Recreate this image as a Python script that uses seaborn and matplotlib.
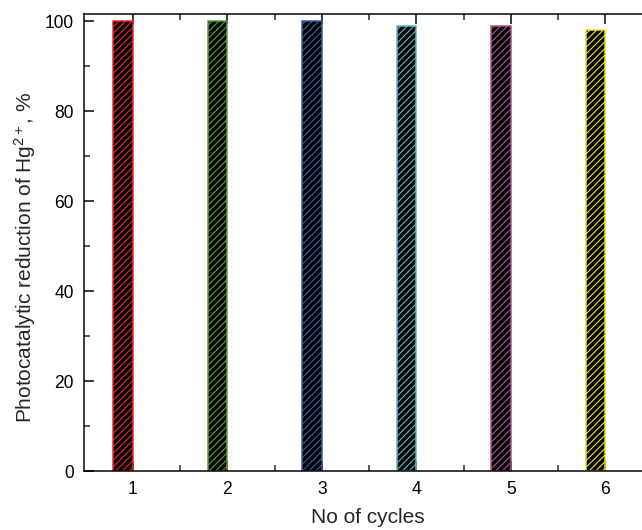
import matplotlib
matplotlib.use("Agg")
import matplotlib.pyplot as plt
import seaborn as sns
import numpy as np
import pandas as pd
from matplotlib.ticker import MultipleLocator, FixedLocator

cycles = ["1", "2", "3", "4", "5", "6"]
reduction = [100, 100, 100, 99, 99, 98]
bar_colors = ["#e8262c", "#5c9e3e", "#3c5ba6", "#5fb7c7", "#a9548e", "#e6dc1e"]
x_label = "No of cycles"
y_label = "Photocatalytic reduction of Hg$^{2+}$, %"

sns.set_style("ticks")
plt.rcParams["font.family"] = ["Liberation Sans", "DejaVu Sans"]
plt.rcParams["mathtext.fontset"] = "custom"
plt.rcParams["mathtext.rm"] = "Liberation Sans"
plt.rcParams["mathtext.it"] = "Liberation Sans:italic"
plt.rcParams["hatch.linewidth"] = 0.7

DPI = 120
fig = plt.figure(figsize=(642 / DPI, 530 / DPI), dpi=DPI)
W, H = 642, 530
left_px, right_px, top_px, bottom_px = 84, 652, 14, 471
ax = fig.add_axes([left_px / W, (H - bottom_px) / H,
                   (right_px - left_px) / W, (bottom_px - top_px) / H])

df = pd.DataFrame({"cycle": cycles, "value": reduction})
sns.barplot(data=df, x="cycle", y="value", hue="cycle", palette=bar_colors,
            legend=False, width=0.21, ax=ax, saturation=1)

for p, c in zip(ax.patches, bar_colors):
    p.set_facecolor("black")
    p.set_edgecolor(c)
    p.set_hatch("//////")
    p.set_linewidth(0.9)

offset = 0.105
ax.set_xticks(np.arange(len(cycles)) + offset)
ax.set_xticklabels(cycles)
ax.xaxis.set_minor_locator(FixedLocator(np.arange(len(cycles)) + offset + 0.5))
ax.set_xlim(offset - 49 / 94.5, offset + (right_px - 133) / 94.5)
ax.set_ylim(0, 101.6)
ax.yaxis.set_major_locator(MultipleLocator(20))
ax.yaxis.set_minor_locator(MultipleLocator(10))

for s in ax.spines.values():
    s.set_linewidth(0.9)
    s.set_color("black")

ax.tick_params(axis="both", which="major", direction="in", length=6, width=0.9,
               labelsize=10.5, colors="black", pad=6)
ax.tick_params(axis="both", which="minor", direction="in", length=3.5, width=0.9)
ax.tick_params(axis="x", which="both", top=True, length=1.0)
ax.tick_params(axis="x", which="major", bottom=True, length=6)
ax.tick_params(axis="x", which="minor", bottom=True, length=3.5)

ax.set_xlabel(x_label, fontsize=12.5)
ax.set_ylabel(y_label, fontsize=12.5)
ax.xaxis.set_label_coords(0.5, -(508 - bottom_px) / (bottom_px - top_px))
ax.xaxis.label.set_va("top")
ax.yaxis.set_label_coords((38 - left_px) / (right_px - left_px),
                          (bottom_px - 257.5) / (bottom_px - top_px))

fig.savefig("out.png", dpi=DPI)
